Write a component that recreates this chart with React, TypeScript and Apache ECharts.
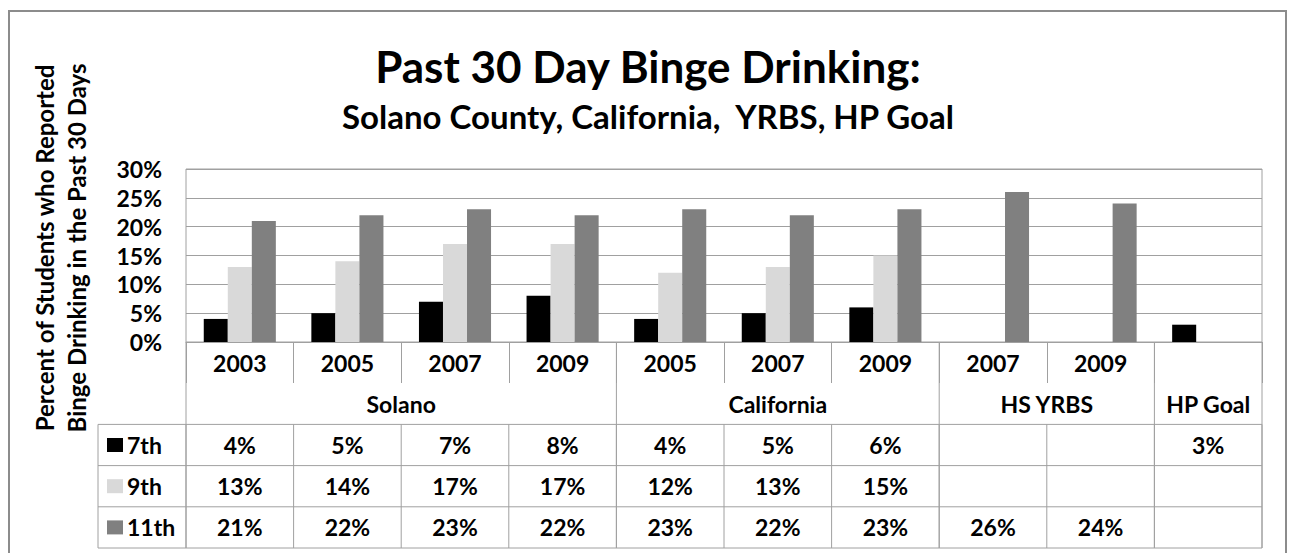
import React, { useEffect, useRef } from "react";
import * as echarts from "echarts";

// ---- data ----
const categories = ["2003", "2005", "2007", "2009", "2005", "2007", "2009", "2007", "2009", ""];
const groupNames = ["Solano", "California", "HS YRBS", "HP Goal"];
const groupSpans = [4, 3, 2, 1];
const seriesNames = ["7th", "9th", "11th"];
const grade7 = [4, 5, 7, 8, 4, 5, 6, null, null, 3];
const grade9 = [13, 14, 17, 17, 12, 13, 15, null, null, null];
const grade11 = [21, 22, 23, 22, 23, 22, 23, 26, 24, null];
const titleText = "Past 30 Day Binge Drinking:";
const subtitleText = "Solano County, California,  YRBS, HP Goal";
const yTitle = "Percent of Students who Reported\nBinge Drinking in the Past 30 Days";

// ---- style / layout ----
const COLORS = ["#000000", "#d9d9d9", "#808080"];
const FONT = "Lato, 'Open Sans', sans-serif";
const GRID_COLOR = "#a0a0a0";
const ROW_H = 41.2;
const TABLE_LEFT = 98;

export default function App() {
  const ref = useRef<HTMLDivElement>(null);

  useEffect(() => {
    if (!ref.current) return;
    const chart = echarts.init(ref.current, null, { renderer: "svg" });
    const seriesData = [grade7, grade9, grade11];
    chart.setOption({
      animation: false,
      backgroundColor: "#ffffff",
      grid: { left: 186, right: 29, top: 169, bottom: 213, show: true, borderColor: GRID_COLOR, borderWidth: 1 },
      xAxis: {
        type: "category",
        data: categories,
        axisLine: { show: true, lineStyle: { color: GRID_COLOR, width: 1 } },
        axisTick: { show: true, length: 41, interval: 0, lineStyle: { color: GRID_COLOR } },
        axisLabel: { interval: 0, margin: 9, fontFamily: FONT, fontWeight: "bold", fontSize: 23, color: "#000" },
      },
      yAxis: {
        type: "value",
        min: 0,
        max: 30,
        interval: 5,
        axisLine: { show: false },
        axisTick: { show: false },
        axisLabel: { formatter: "{value}%", margin: 24, fontFamily: FONT, fontWeight: "bold", fontSize: 23, color: "#000" },
        splitLine: { lineStyle: { color: GRID_COLOR, width: 1 } },
      },
      series: seriesNames.map((name, i) => ({
        name,
        type: "bar",
        data: seriesData[i],
        barGap: "0%",
        barCategoryGap: "33%",
        itemStyle: { color: COLORS[i] },
      })),
    });

    const xc = (i: number) => chart.convertToPixel({ xAxisIndex: 0 }, i) as number;
    const bw = xc(1) - xc(0);
    const left = xc(0) - bw / 2;
    const right = xc(categories.length - 1) + bw / 2;
    const yZero = chart.convertToPixel({ yAxisIndex: 0 }, 0) as number;
    const rowY = (k: number) => yZero + k * ROW_H;
    const bottom = rowY(5);

    const g: any[] = [];
    const line = (x1: number, y1: number, x2: number, y2: number, color = GRID_COLOR, w = 1) =>
      g.push({ type: "line", shape: { x1, y1, x2, y2 }, style: { stroke: color, lineWidth: w }, silent: true });
    const text = (s: string, x: number, y: number, size: number, align = "center") =>
      g.push({
        type: "text",
        x,
        y,
        silent: true,
        style: { text: s, fontFamily: FONT, fontWeight: "bold", fontSize: size, fill: "#000", align, verticalAlign: "middle" },
      });

    // outer border
    g.push({ type: "polyline", shape: { points: [[9, 553], [9, 11], [1286, 11], [1286, 553]] }, style: { stroke: "#8c8c8c", lineWidth: 2, fill: "none" }, silent: true });

    // titles
    text(titleText, 648, 66, 44);
    text(subtitleText, 648, 116, 33);
    g.push({
      type: "text",
      x: 60,
      y: 248,
      rotation: Math.PI / 2,
      silent: true,
      style: { text: yTitle, fontFamily: FONT, fontWeight: "bold", fontSize: 24, fill: "#000", align: "center", verticalAlign: "middle", lineHeight: 32 },
    });

    // table horizontal lines
    for (let k = 2; k <= 5; k++) line(TABLE_LEFT, rowY(k), right, rowY(k));
    line(TABLE_LEFT, rowY(2), TABLE_LEFT, bottom);
    // all category boundaries in data rows
    for (let i = 0; i <= categories.length; i++) line(left + i * bw, rowY(2), left + i * bw, bottom);
    // group boundaries full height + group labels
    let start = 0;
    line(left, yZero, left, bottom);
    groupNames.forEach((name, gi) => {
      const end = start + groupSpans[gi];
      const gx0 = xc(start) - bw / 2;
      const gx1 = xc(end - 1) + bw / 2;
      line(gx1, yZero, gx1, bottom);
      text(name, (gx0 + gx1) / 2, (rowY(1) + rowY(2)) / 2, 23);
      start = end;
    });

    // data rows
    seriesNames.forEach((name, si) => {
      const cy = (rowY(2 + si) + rowY(3 + si)) / 2;
      g.push({ type: "rect", shape: { x: 107, y: cy - 7, width: 16, height: 14 }, style: { fill: COLORS[si] }, silent: true });
      text(name, 127, cy, 23, "left");
      seriesData[si].forEach((v, i) => {
        if (v == null) return;
        text(v + "%", xc(i), cy, 23);
      });
    });

    chart.setOption({ graphic: { elements: g } });

    return () => chart.dispose();
  }, []);

  return <div ref={ref} style={{ position: "fixed", left: 0, top: 0, width: 1291, height: 555 }} />;
}
